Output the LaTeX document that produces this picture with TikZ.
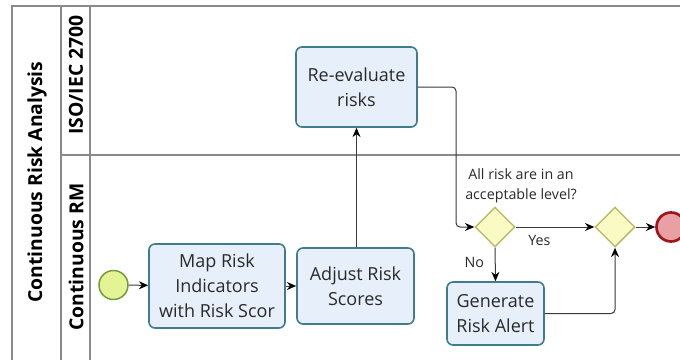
\documentclass[tikz,border=0pt]{standalone}
\usepackage{fontspec}
\setmainfont{Open Sans}
\usetikzlibrary{arrows.meta,shapes.geometric}
\definecolor{framec}{HTML}{8A8A8A}
\definecolor{taskfill}{HTML}{E6EFFA}
\definecolor{taskdraw}{HTML}{3F7C8C}
\definecolor{gwfill}{HTML}{FAFAC4}
\definecolor{gwdraw}{HTML}{B9BC6A}
\definecolor{stfill}{HTML}{E4F394}
\definecolor{stdraw}{HTML}{6F9A3C}
\definecolor{endfill}{HTML}{E8A0A4}
\definecolor{enddraw}{HTML}{A0161C}
\definecolor{txt}{HTML}{2A2A2A}
\definecolor{flow}{HTML}{3A3A3A}
\begin{document}
\begin{tikzpicture}[x=0.75pt,y=-0.75pt,
  frameline/.style={draw=framec,line width=0.8pt},
  lanelabel/.style={rotate=90,font=\fontsize{14.5}{17}\selectfont\bfseries,text=black,inner sep=0pt},
  task/.style={rectangle,rounded corners=4.5pt,draw=taskdraw,fill=taskfill,line width=1.2pt,
    align=center,text=txt,inner sep=0pt,font=\fontsize{13.5}{18.75}\selectfont},
  gateway/.style={diamond,draw=gwdraw,fill=gwfill,line width=1.1pt,inner sep=0pt,
    minimum width={40*0.75pt},minimum height={40*0.75pt}},
  startev/.style={circle,draw=stdraw,fill=stfill,line width=1.1pt,inner sep=0pt,minimum size={29*0.75pt}},
  endev/.style={circle,draw=enddraw,fill=endfill,line width=2pt,inner sep=0pt,minimum size={29*0.75pt}},
  seqflow/.style={draw=flow,line width=0.75pt,-{Stealth[length=7pt,width=6pt,color=black]},rounded corners=3pt},
  flowlabel/.style={font=\fontsize{10.7}{15}\selectfont,text=txt,inner sep=0pt,align=center}
]
\useasboundingbox (0,0) rectangle (680,360);
\fill[white] (0,0) rectangle (680,360);
% pool and lanes
\draw[frameline] (680,6) -- (12,6) -- (12,360);
\draw[frameline] (61,6) -- (61,360);
\draw[frameline] (90,6) -- (90,360);
\draw[frameline] (61,155) -- (680,155);
\node[lanelabel] (pool) at (37,182) {Continuous Risk Analysis};
\node[lanelabel] (lane1) at (76,75) {ISO/IEC 2700};
\node[lanelabel] (lane2) at (76,257) {Continuous RM};
% elements
\node[startev] (start) at (113.5,285) {};
\node[task,minimum width={136*0.75pt},minimum height={84*0.75pt}] (map) at (217,286) {Map Risk\\Indicators\\with Risk Scor};
\node[task,minimum width={117*0.75pt},minimum height={76*0.75pt}] (adjust) at (355.5,286) {Adjust Risk\\Scores};
\node[task,minimum width={121*0.75pt},minimum height={80*0.75pt}] (reeval) at (356.5,87) {Re-evaluate\\risks};
\node[gateway] (g1) at (495,227) {};
\node[gateway] (g2) at (615,227) {};
\node[endev] (end) at (671,227) {};
\node[task,minimum width={97*0.75pt},minimum height={63*0.75pt}] (alert) at (495.5,313.5) {Generate\\Risk Alert};
\node[flowlabel] (q) at (521,186) {All risk are in an\\acceptable level?};
\coordinate (bend) at (456,87);
% flows
\draw[seqflow] (start) -- (map);
\draw[seqflow] (map.east |- adjust.west) -- (adjust.west);
\draw[seqflow] (adjust.north -| reeval.south) -- (reeval.south);
\draw[seqflow] (reeval.east) -- (bend) -- (bend |- g1.west) -- (g1.west);
\draw[seqflow] (g1.east) -- node[flowlabel,below=6pt,pos=0.3] (yes) {Yes} (g2.west);
\draw[seqflow] (g1.south) -- node[flowlabel,left=8pt,pos=0.45] (no) {No} (alert.north);
\draw[seqflow] (alert.east) -| (g2.south);
\draw[seqflow] (g2.east) -- (end.west);
\end{tikzpicture}
\end{document}
